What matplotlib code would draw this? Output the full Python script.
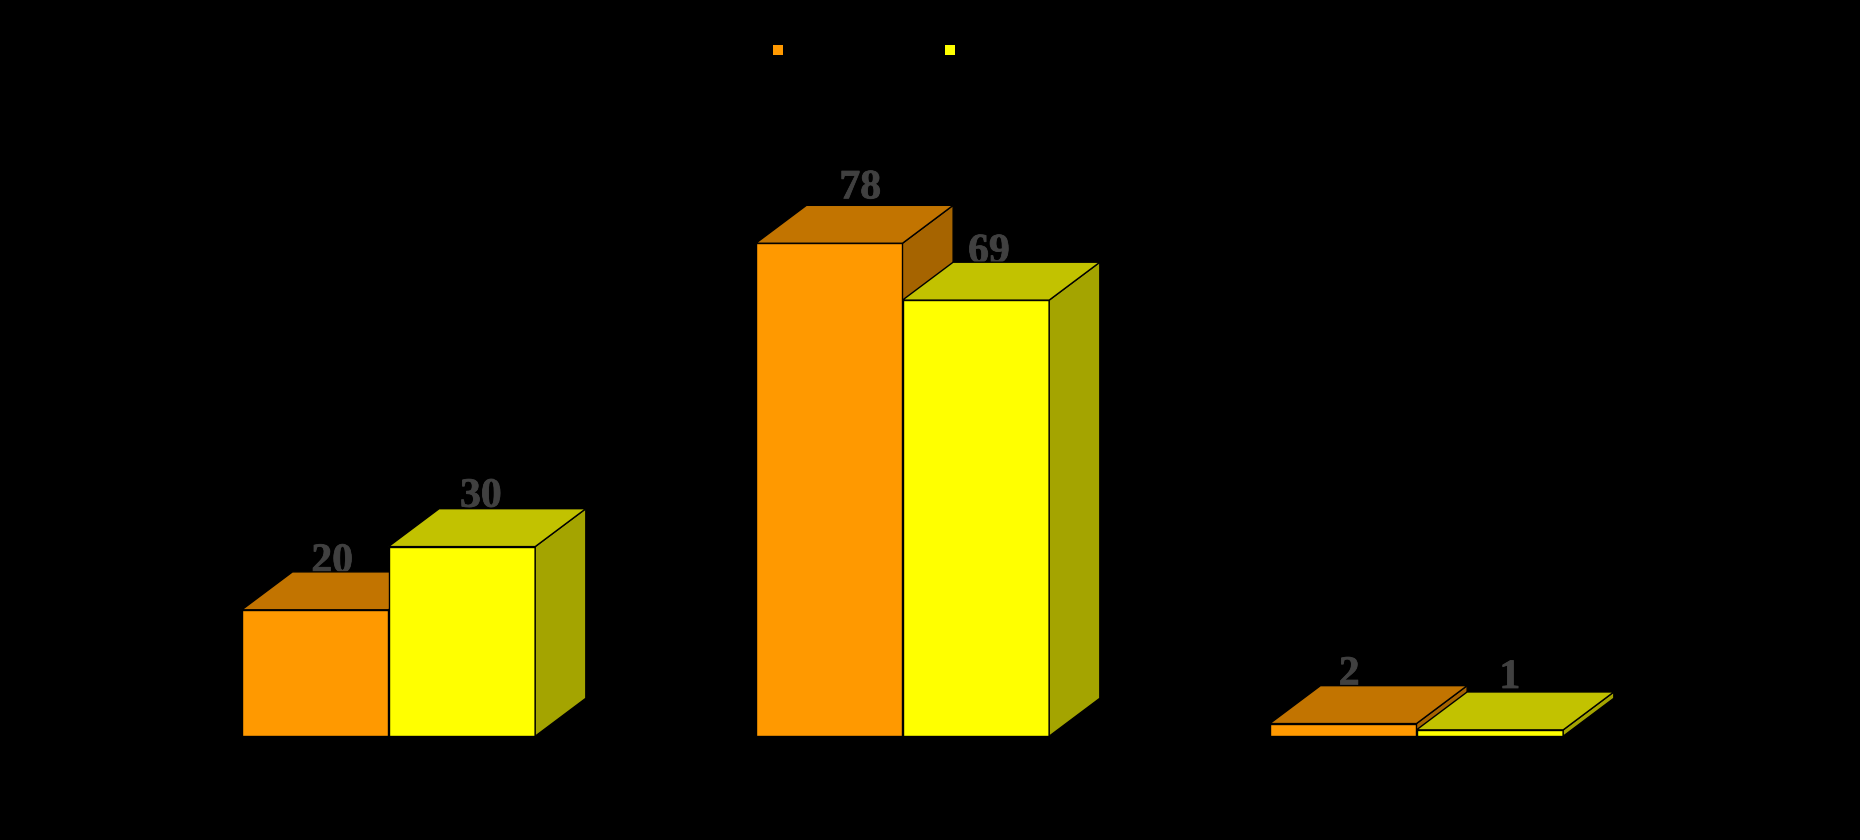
import numpy as np
import matplotlib
matplotlib.use('Agg')
import matplotlib.pyplot as plt
import matplotlib.patheffects as pe
from matplotlib.patches import Polygon

orange_values = [20, 78, 2]
yellow_values = [30, 69, 1]

# face colours: front, top, side
orange_cols = ('#FF9900', '#C27400', '#A66400')
yellow_cols = ('#FFFF00', '#C2C200', '#A4A400')

bar_w = 0.2854
depth_x = 0.0985
depth_y = 6.0

fig = plt.figure(figsize=(18.6, 8.4), dpi=100, facecolor='black')
ax = fig.add_axes([131.5 / 1860, (840 - 736.2) / 840, 1542 / 1860, 632 / 840])
ax.set_facecolor('black')
ax.set_xlim(-0.5, 2.5)
ax.set_ylim(0, 100)
ax.axis('off')


def draw_bar(x, v, cols, z):
    edge = dict(edgecolor='black', linewidth=1.0, clip_on=False, zorder=z)
    ax.bar(x, v, width=bar_w, align='edge', color=cols[0], **edge)
    top = [(x, v), (x + bar_w, v), (x + bar_w + depth_x, v + depth_y), (x + depth_x, v + depth_y)]
    side = [(x + bar_w, 0), (x + bar_w + depth_x, depth_y), (x + bar_w + depth_x, v + depth_y), (x + bar_w, v)]
    ax.add_patch(Polygon(side, closed=True, facecolor=cols[2], **edge))
    ax.add_patch(Polygon(top, closed=True, facecolor=cols[1], **edge))


def draw_label(x, v, off):
    t = ax.annotate(str(v), xy=(x + bar_w / 2, v + depth_y), xytext=off, textcoords='offset pixels',
                    ha='center', va='baseline', fontsize=30, fontweight='bold',
                    family='Liberation Serif', color='#404040', zorder=1, annotation_clip=False)
    # the original digits are a little heavier
    t.set_path_effects([pe.withStroke(linewidth=0.6, foreground='#404040')])


orange_off = [(17, 0), (31, 7), (6, 1)]
yellow_off = [(19, 2), (13, 0), (20, 4)]

for i in range(3):
    draw_bar(i - bar_w, orange_values[i], orange_cols, 2 + i * 2)
    draw_bar(i, yellow_values[i], yellow_cols, 3 + i * 2)
    draw_label(i - bar_w, orange_values[i], orange_off[i])
    draw_label(i, yellow_values[i], yellow_off[i])

# legend squares, their text is black on black in the original
for px, col in [(778, orange_cols[0]), (950, yellow_cols[0])]:
    fig.add_artist(plt.Line2D([px / 1860], [1 - 50 / 840], transform=fig.transFigure, marker='s',
                              markersize=7.4, markeredgewidth=0, color=col, linestyle='none'))

fig.savefig('out.png', dpi=100, facecolor='black')
